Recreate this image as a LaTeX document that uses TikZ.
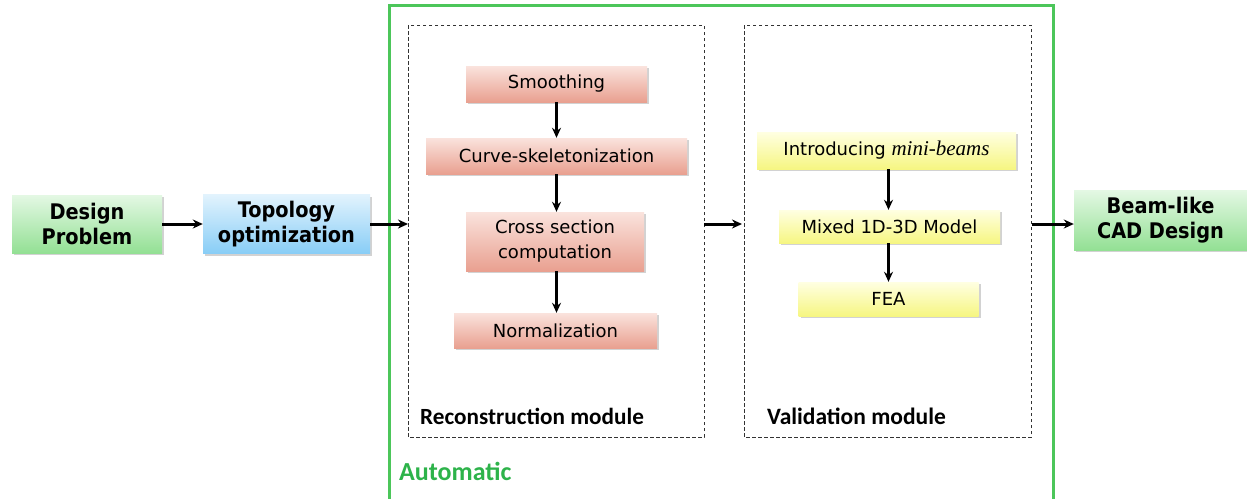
\documentclass[tikz,border=0pt]{standalone}
\usepackage{fontspec}
\setmainfont{DejaVu Sans}
\newfontfamily\boldcond{DejaVu Sans Condensed}
\newfontfamily\labelfont{Carlito}
\newfontfamily\timesit{Liberation Serif}
\usetikzlibrary{arrows.meta,shadows}

\definecolor{frameGreen}{HTML}{4CC65A}
\definecolor{autoGreen}{HTML}{2DB34A}
\definecolor{salmonTop}{HTML}{FAE3DD}
\definecolor{salmonBot}{HTML}{E9A090}
\definecolor{yellowTop}{HTML}{FFFFE2}
\definecolor{yellowBot}{HTML}{F6F682}
\definecolor{greenTop}{HTML}{E4F8E4}
\definecolor{greenBot}{HTML}{93E094}
\definecolor{blueTop}{HTML}{E2F3FD}
\definecolor{blueBot}{HTML}{88CDF6}

\tikzset{
  box/.style={inner sep=0pt, align=center, font=\fontsize{18}{25}\selectfont,
              drop shadow={opacity=0.35, shadow xshift=2pt, shadow yshift=-2pt}},
  salmon/.style={box, top color=salmonTop, bottom color=salmonBot},
  yellowbox/.style={box, top color=yellowTop, bottom color=yellowBot},
  greenbox/.style={box, font=\boldcond\bfseries\fontsize{21.5}{25}\selectfont,
              top color=greenTop, bottom color=greenBot},
  bluebox/.style={box, font=\boldcond\bfseries\fontsize{21.5}{25}\selectfont,
              top color=blueTop, bottom color=blueBot},
  module/.style={draw=black!80, line width=1pt, dash pattern=on 3.5pt off 2.5pt},
  flow/.style={-{Stealth[length=10pt,width=9pt]}, line width=3pt},
  vflow/.style={flow, line width=2.4pt}
}

\begin{document}
\begin{tikzpicture}[x=1pt,y=-1pt]
  \useasboundingbox[fill=white] (0,0) rectangle (1247,498);

  % automatic frame and the two module frames
  \draw[frameGreen, line width=3pt] (389,5) rectangle (1053,501);
  \draw[module] (408,25) rectangle (704,437);
  \draw[module] (744,25) rectangle (1031,437);

  % outer stages
  \node[greenbox, minimum width=150pt, minimum height=58pt] (design) at (87,224) {Design\\Problem};
  \node[bluebox, minimum width=167pt, minimum height=59pt] (topo) at (286.5,224) {Topology\\optimization};
  \node[greenbox, minimum width=173pt, minimum height=60pt] (cad) at (1160.5,220) {Beam-like\\CAD Design};

  % reconstruction module
  \node[salmon, minimum width=181pt, minimum height=36pt] (smooth) at (556.5,84) {Smoothing};
  \node[salmon, minimum width=261pt, minimum height=36pt] (skel) at (556.5,156) {Curve-skeletonization};
  \node[salmon, minimum width=178pt, minimum height=59pt] (cross) at (555,241.5) {Cross section\\computation};
  \node[salmon, minimum width=203pt, minimum height=35pt] (norm) at (555.5,330.5) {Normalization};

  % validation module
  \node[yellowbox, minimum width=259pt, minimum height=37pt] (intro) at (886.5,150.5)
       {Introducing {\timesit\itshape\fontsize{21}{24}\selectfont mini-beams}};
  \node[yellowbox, minimum width=221pt, minimum height=33pt] (mixed) at (889.5,226.5) {Mixed 1D-3D Model};
  \node[yellowbox, minimum width=180pt, minimum height=34pt] (fea) at (888.5,299) {FEA};

  % points on the module frames where the main flow enters and leaves
  \coordinate (recIn) at (408,224);
  \coordinate (recOut) at (704,224);
  \coordinate (valIn) at (742,224);
  \coordinate (valOut) at (1032,224);

  % connectors
  \draw[flow] (design.east) -- (topo.west |- design.east);
  \draw[flow] (topo.east |- recIn) -- (recIn);
  \draw[flow] (recOut) -- (valIn);
  \draw[flow] (valOut) -- (cad.west |- valOut);

  \draw[vflow] (smooth.south) -- (skel.north);
  \draw[vflow] (skel.south) -- (skel.south |- cross.north);
  \draw[vflow] (skel.south |- cross.south) -- (skel.south |- norm.north);
  \draw[vflow] (intro.south -| fea.north) -- (fea.north |- mixed.north);
  \draw[vflow] (fea.north |- mixed.south) -- (fea.north);

  % labels
  \node[anchor=west, inner sep=0pt, font=\labelfont\bfseries\fontsize{23.2}{26}\selectfont] (reclab) at (420,416) {Reconstruction module};
  \node[anchor=west, inner sep=0pt, font=\labelfont\bfseries\fontsize{23.5}{26}\selectfont] (vallab) at (767,416) {Validation module};
  \node[anchor=west, inner sep=0pt, text=autoGreen, font=\labelfont\bfseries\fontsize{26}{30}\selectfont] (autolab) at (399,471) {Automatic};
\end{tikzpicture}
\end{document}
